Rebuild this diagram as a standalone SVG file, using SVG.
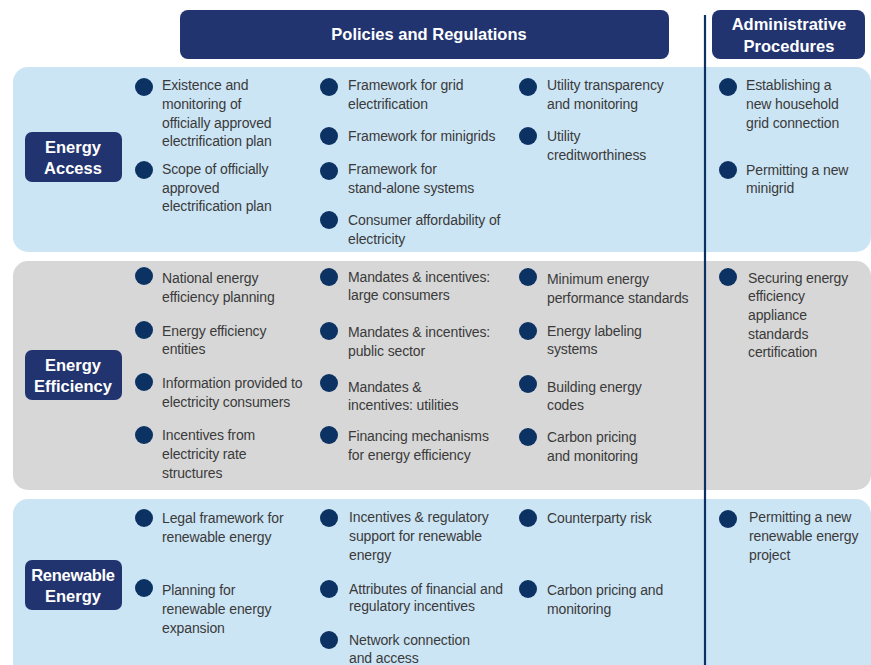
<svg xmlns="http://www.w3.org/2000/svg" width="871" height="665" viewBox="0 0 871 665">
<style>
.hdr{fill:#22346f}
.lbl{fill:#22346f}
.ht{font-family:"Liberation Sans Narrow","Liberation Sans",Arial,sans-serif;font-weight:bold;fill:#fff;text-anchor:middle}
.t{font-family:"Liberation Sans",Arial,sans-serif;font-size:14px;letter-spacing:-0.12px;fill:#3a3a3a}
.b{fill:#0b3262}
.blue{fill:#cce5f5}
.gray{fill:#d7d7d7}
</style>
<rect width="871" height="665" fill="#fff"/>
<g id="rows">
<rect class="blue" x="13" y="67" width="858" height="185" rx="15"/>
<rect class="gray" x="13" y="261" width="858" height="229" rx="15"/>
<rect class="blue" x="13" y="499" width="858" height="190" rx="15"/>
</g>
<g id="header-policies">
<rect class="hdr" x="180" y="10" width="489" height="49" rx="8"/>
<text class="ht" x="429" y="40" font-size="16.5">Policies and Regulations</text>
</g>
<g id="header-admin">
<rect class="hdr" x="712" y="10" width="153" height="49" rx="8"/>
<text class="ht" x="789" y="30" font-size="16.5">Administrative</text>
<text class="ht" x="789" y="52" font-size="16.5">Procedures</text>
</g>
<g id="connectors">
<line x1="705" y1="15" x2="705" y2="665" stroke="#0b3262" stroke-width="2.2"/>
</g>
<g id="label-access">
<rect class="lbl" x="25" y="132" width="97" height="50" rx="7"/>
<text class="ht" x="73" y="153" font-size="16.5">Energy</text>
<text class="ht" x="73" y="174" font-size="16.5">Access</text>
</g>
<g id="label-efficiency">
<rect class="lbl" x="25" y="350" width="97" height="50" rx="7"/>
<text class="ht" x="73" y="371" font-size="16.5">Energy</text>
<text class="ht" x="73" y="392" font-size="16.5">Efficiency</text>
</g>
<g id="label-renewable">
<rect class="lbl" x="25" y="560" width="97" height="50" rx="7"/>
<text class="ht" x="73" y="581" font-size="16.5" letter-spacing="-0.3">Renewable</text>
<text class="ht" x="73" y="602" font-size="16.5">Energy</text>
</g>
<g id="access-items">
<circle class="b" cx="144" cy="87" r="9"/>
<text class="t" x="162" y="90">Existence and</text>
<text class="t" x="162" y="109">monitoring of</text>
<text class="t" x="162" y="128">officially approved</text>
<text class="t" x="162" y="146">electrification plan</text>
<circle class="b" cx="144" cy="170" r="9"/>
<text class="t" x="162" y="174">Scope of officially</text>
<text class="t" x="162" y="193">approved</text>
<text class="t" x="162" y="211">electrification plan</text>
<circle class="b" cx="329" cy="87" r="9"/>
<text class="t" x="348" y="90">Framework for grid</text>
<text class="t" x="348" y="109">electrification</text>
<circle class="b" cx="329" cy="136" r="9"/>
<text class="t" x="348" y="141">Framework for minigrids</text>
<circle class="b" cx="329" cy="171" r="9"/>
<text class="t" x="348" y="174">Framework for</text>
<text class="t" x="348" y="193">stand-alone systems</text>
<circle class="b" cx="329" cy="220" r="9"/>
<text class="t" x="348" y="225">Consumer affordability of</text>
<text class="t" x="348" y="244">electricity</text>
<circle class="b" cx="528" cy="87" r="9"/>
<text class="t" x="547" y="90">Utility transparency</text>
<text class="t" x="547" y="109">and monitoring</text>
<circle class="b" cx="528" cy="136" r="9"/>
<text class="t" x="547" y="141">Utility</text>
<text class="t" x="547" y="160">creditworthiness</text>
<circle class="b" cx="728" cy="87" r="9"/>
<text class="t" x="746" y="90">Establishing a</text>
<text class="t" x="746" y="109">new household</text>
<text class="t" x="746" y="128">grid connection</text>
<circle class="b" cx="728" cy="170" r="9"/>
<text class="t" x="746" y="175">Permitting a new</text>
<text class="t" x="746" y="193">minigrid</text>
</g>
<g id="efficiency-items">
<circle class="b" cx="144" cy="276" r="9"/>
<text class="t" x="162" y="283">National energy</text>
<text class="t" x="162" y="302">efficiency planning</text>
<circle class="b" cx="144" cy="330" r="9"/>
<text class="t" x="162" y="336">Energy efficiency</text>
<text class="t" x="162" y="354">entities</text>
<circle class="b" cx="144" cy="382" r="9"/>
<text class="t" x="162" y="388">Information provided to</text>
<text class="t" x="162" y="407">electricity consumers</text>
<circle class="b" cx="144" cy="435" r="9"/>
<text class="t" x="162" y="440">Incentives from</text>
<text class="t" x="162" y="459">electricity rate</text>
<text class="t" x="162" y="478">structures</text>
<circle class="b" cx="329" cy="277" r="9"/>
<text class="t" x="348" y="282">Mandates &amp; incentives:</text>
<text class="t" x="348" y="300">large consumers</text>
<circle class="b" cx="329" cy="331" r="9"/>
<text class="t" x="348" y="337">Mandates &amp; incentives:</text>
<text class="t" x="348" y="356">public sector</text>
<circle class="b" cx="329" cy="383" r="9"/>
<text class="t" x="348" y="392">Mandates &amp;</text>
<text class="t" x="348" y="410">incentives: utilities</text>
<circle class="b" cx="329" cy="435" r="9"/>
<text class="t" x="348" y="441">Financing mechanisms</text>
<text class="t" x="348" y="460">for energy efficiency</text>
<circle class="b" cx="528" cy="277" r="9"/>
<text class="t" x="547" y="284">Minimum energy</text>
<text class="t" x="547" y="303">performance standards</text>
<circle class="b" cx="528" cy="331" r="9"/>
<text class="t" x="547" y="336">Energy labeling</text>
<text class="t" x="547" y="354">systems</text>
<circle class="b" cx="528" cy="384" r="9"/>
<text class="t" x="547" y="392">Building energy</text>
<text class="t" x="547" y="410">codes</text>
<circle class="b" cx="528" cy="437" r="9"/>
<text class="t" x="547" y="442">Carbon pricing</text>
<text class="t" x="547" y="461">and monitoring</text>
<circle class="b" cx="728" cy="277" r="9"/>
<text class="t" x="748" y="283">Securing energy</text>
<text class="t" x="748" y="301">efficiency</text>
<text class="t" x="748" y="320">appliance</text>
<text class="t" x="748" y="339">standards</text>
<text class="t" x="748" y="357">certification</text>
</g>
<g id="renewable-items">
<circle class="b" cx="144" cy="518" r="9"/>
<text class="t" x="162" y="523">Legal framework for</text>
<text class="t" x="162" y="542">renewable energy</text>
<circle class="b" cx="144" cy="588" r="9"/>
<text class="t" x="162" y="595">Planning for</text>
<text class="t" x="162" y="614">renewable energy</text>
<text class="t" x="162" y="633">expansion</text>
<circle class="b" cx="329" cy="518" r="9"/>
<text class="t" x="349" y="522">Incentives &amp; regulatory</text>
<text class="t" x="349" y="541">support for renewable</text>
<text class="t" x="349" y="560">energy</text>
<circle class="b" cx="329" cy="589" r="9"/>
<text class="t" x="349" y="594">Attributes of financial and</text>
<text class="t" x="349" y="611">regulatory incentives</text>
<circle class="b" cx="329" cy="640" r="9"/>
<text class="t" x="349" y="645">Network connection</text>
<text class="t" x="349" y="663">and access</text>
<circle class="b" cx="528" cy="518" r="9"/>
<text class="t" x="547" y="523">Counterparty risk</text>
<circle class="b" cx="528" cy="589" r="9"/>
<text class="t" x="547" y="595">Carbon pricing and</text>
<text class="t" x="547" y="614">monitoring</text>
<circle class="b" cx="728" cy="519" r="9"/>
<text class="t" x="749" y="522">Permitting a new</text>
<text class="t" x="749" y="541">renewable energy</text>
<text class="t" x="749" y="560">project</text>
</g>
</svg>
